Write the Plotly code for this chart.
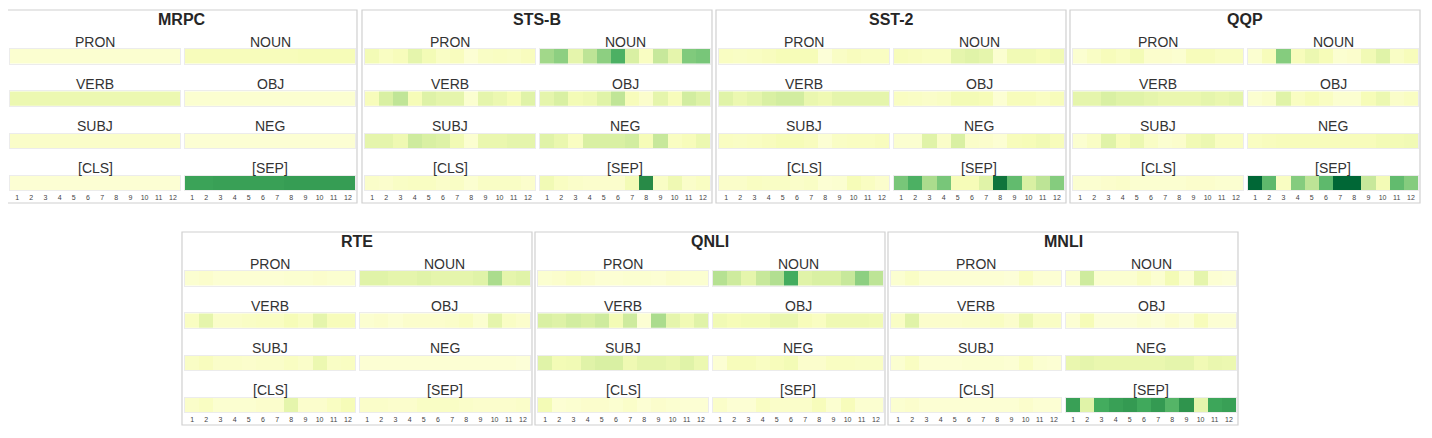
import plotly.graph_objects as go

tasks = ["MRPC", "STS-B", "SST-2", "QQP", "RTE", "QNLI", "MNLI"]
features = ["PRON", "NOUN", "VERB", "OBJ", "SUBJ", "NEG", "[CLS]", "[SEP]"]
layers = list(range(1, 13))

# one row per feature (same order as `features`), one value per layer
mrpc = [
    [0.06, 0.06, 0.06, 0.06, 0.06, 0.06, 0.06, 0.06, 0.06, 0.06, 0.06, 0.06],
    [0.12, 0.12, 0.12, 0.12, 0.12, 0.12, 0.12, 0.12, 0.13, 0.13, 0.13, 0.13],
    [0.17, 0.17, 0.17, 0.17, 0.17, 0.17, 0.17, 0.17, 0.17, 0.17, 0.17, 0.17],
    [0.06, 0.06, 0.06, 0.06, 0.06, 0.06, 0.06, 0.06, 0.06, 0.06, 0.06, 0.06],
    [0.08, 0.08, 0.08, 0.08, 0.08, 0.08, 0.08, 0.08, 0.08, 0.08, 0.08, 0.08],
    [0.05, 0.05, 0.05, 0.05, 0.05, 0.05, 0.05, 0.05, 0.05, 0.05, 0.05, 0.05],
    [0.05, 0.05, 0.05, 0.05, 0.05, 0.05, 0.05, 0.05, 0.05, 0.05, 0.05, 0.05],
    [0.65, 0.65, 0.66, 0.66, 0.66, 0.66, 0.66, 0.67, 0.67, 0.67, 0.67, 0.67],
]
stsb = [
    [0.14, 0.10, 0.12, 0.20, 0.14, 0.09, 0.11, 0.05, 0.09, 0.10, 0.09, 0.11],
    [0.40, 0.45, 0.20, 0.33, 0.45, 0.60, 0.25, 0.10, 0.30, 0.20, 0.48, 0.50],
    [0.12, 0.25, 0.32, 0.13, 0.23, 0.20, 0.20, 0.06, 0.20, 0.17, 0.13, 0.22],
    [0.20, 0.25, 0.14, 0.16, 0.22, 0.32, 0.12, 0.07, 0.20, 0.12, 0.27, 0.23],
    [0.20, 0.20, 0.16, 0.28, 0.25, 0.23, 0.15, 0.06, 0.18, 0.18, 0.20, 0.20],
    [0.22, 0.18, 0.10, 0.25, 0.25, 0.25, 0.27, 0.13, 0.30, 0.10, 0.12, 0.17],
    [0.08, 0.07, 0.09, 0.10, 0.10, 0.08, 0.09, 0.06, 0.09, 0.09, 0.09, 0.07],
    [0.15, 0.10, 0.08, 0.07, 0.07, 0.07, 0.14, 0.73, 0.09, 0.16, 0.08, 0.10],
]
sst2 = [
    [0.10, 0.09, 0.10, 0.11, 0.13, 0.13, 0.13, 0.04, 0.09, 0.11, 0.10, 0.10],
    [0.12, 0.11, 0.10, 0.10, 0.20, 0.22, 0.20, 0.06, 0.15, 0.15, 0.13, 0.15],
    [0.22, 0.17, 0.20, 0.25, 0.27, 0.27, 0.18, 0.16, 0.20, 0.20, 0.20, 0.20],
    [0.10, 0.09, 0.08, 0.09, 0.14, 0.14, 0.13, 0.05, 0.12, 0.12, 0.10, 0.12],
    [0.10, 0.09, 0.10, 0.11, 0.13, 0.13, 0.11, 0.05, 0.09, 0.10, 0.10, 0.11],
    [0.06, 0.06, 0.22, 0.08, 0.25, 0.08, 0.07, 0.05, 0.12, 0.13, 0.15, 0.12],
    [0.08, 0.08, 0.10, 0.09, 0.09, 0.08, 0.09, 0.05, 0.06, 0.13, 0.10, 0.07],
    [0.50, 0.60, 0.38, 0.50, 0.13, 0.13, 0.22, 0.82, 0.55, 0.25, 0.33, 0.47],
]
qqp = [
    [0.06, 0.09, 0.12, 0.10, 0.14, 0.07, 0.07, 0.06, 0.12, 0.12, 0.10, 0.10],
    [0.06, 0.12, 0.47, 0.12, 0.17, 0.13, 0.06, 0.07, 0.15, 0.22, 0.09, 0.12],
    [0.20, 0.20, 0.25, 0.22, 0.22, 0.20, 0.18, 0.18, 0.18, 0.20, 0.18, 0.20],
    [0.06, 0.08, 0.22, 0.10, 0.13, 0.10, 0.06, 0.06, 0.13, 0.17, 0.08, 0.10],
    [0.06, 0.09, 0.22, 0.12, 0.17, 0.09, 0.06, 0.07, 0.15, 0.17, 0.10, 0.10],
    [0.10, 0.11, 0.12, 0.12, 0.12, 0.12, 0.12, 0.12, 0.12, 0.14, 0.14, 0.15],
    [0.06, 0.06, 0.07, 0.08, 0.06, 0.06, 0.06, 0.06, 0.07, 0.07, 0.06, 0.06],
    [0.88, 0.56, 0.10, 0.47, 0.33, 0.56, 0.88, 0.88, 0.30, 0.14, 0.55, 0.47],
]
rte = [
    [0.06, 0.07, 0.05, 0.05, 0.05, 0.05, 0.05, 0.06, 0.06, 0.07, 0.06, 0.06],
    [0.22, 0.22, 0.20, 0.20, 0.22, 0.20, 0.20, 0.20, 0.22, 0.38, 0.20, 0.22],
    [0.10, 0.20, 0.08, 0.08, 0.09, 0.10, 0.10, 0.13, 0.10, 0.20, 0.12, 0.12],
    [0.06, 0.07, 0.05, 0.07, 0.07, 0.07, 0.08, 0.10, 0.06, 0.20, 0.09, 0.07],
    [0.09, 0.11, 0.08, 0.08, 0.07, 0.08, 0.08, 0.10, 0.08, 0.17, 0.09, 0.10],
    [0.05, 0.05, 0.05, 0.05, 0.05, 0.05, 0.05, 0.05, 0.05, 0.05, 0.05, 0.04],
    [0.08, 0.10, 0.06, 0.06, 0.06, 0.07, 0.07, 0.20, 0.07, 0.07, 0.10, 0.13],
    [0.08, 0.08, 0.07, 0.07, 0.09, 0.09, 0.09, 0.08, 0.07, 0.07, 0.07, 0.08],
]
qnli = [
    [0.06, 0.07, 0.09, 0.07, 0.05, 0.05, 0.06, 0.06, 0.05, 0.07, 0.06, 0.06],
    [0.35, 0.28, 0.20, 0.30, 0.36, 0.62, 0.22, 0.25, 0.25, 0.30, 0.45, 0.33],
    [0.25, 0.23, 0.27, 0.25, 0.28, 0.14, 0.28, 0.05, 0.38, 0.20, 0.15, 0.22],
    [0.15, 0.13, 0.14, 0.14, 0.18, 0.18, 0.12, 0.10, 0.16, 0.16, 0.16, 0.15],
    [0.22, 0.14, 0.15, 0.22, 0.25, 0.25, 0.16, 0.20, 0.20, 0.18, 0.22, 0.17],
    [0.05, 0.12, 0.12, 0.10, 0.12, 0.14, 0.07, 0.07, 0.10, 0.10, 0.09, 0.09],
    [0.14, 0.05, 0.06, 0.07, 0.07, 0.06, 0.08, 0.05, 0.07, 0.06, 0.05, 0.05],
    [0.08, 0.05, 0.05, 0.10, 0.08, 0.08, 0.08, 0.12, 0.06, 0.12, 0.06, 0.06],
]
mnli = [
    [0.06, 0.09, 0.05, 0.05, 0.05, 0.05, 0.05, 0.05, 0.04, 0.10, 0.05, 0.05],
    [0.06, 0.28, 0.06, 0.06, 0.06, 0.10, 0.06, 0.14, 0.05, 0.20, 0.05, 0.04],
    [0.09, 0.22, 0.07, 0.07, 0.07, 0.08, 0.08, 0.10, 0.07, 0.17, 0.09, 0.09],
    [0.05, 0.13, 0.04, 0.04, 0.04, 0.06, 0.04, 0.07, 0.04, 0.12, 0.05, 0.05],
    [0.06, 0.10, 0.05, 0.05, 0.05, 0.06, 0.06, 0.06, 0.05, 0.10, 0.06, 0.05],
    [0.18, 0.20, 0.18, 0.18, 0.18, 0.18, 0.18, 0.20, 0.20, 0.15, 0.18, 0.17],
    [0.06, 0.07, 0.05, 0.05, 0.05, 0.05, 0.05, 0.05, 0.05, 0.07, 0.05, 0.05],
    [0.66, 0.22, 0.62, 0.66, 0.68, 0.63, 0.68, 0.58, 0.70, 0.20, 0.64, 0.66],
]

task_data = [mrpc, stsb, sst2, qqp, rte, qnli, mnli]

ylgn = [
    [0.0, "#ffffe5"], [0.125, "#f7fcb9"], [0.25, "#d9f0a3"], [0.375, "#addd8e"],
    [0.5, "#78c679"], [0.625, "#41ab5d"], [0.75, "#238443"], [0.875, "#006837"],
    [1.0, "#004529"],
]

# the page body adds an 8px margin, so the figure is a bit smaller than the window
OFF = 8
W, H = 1416, 422
# panel box placement in window pixels (left, top)
panel_pos = [(7, 10), (362, 10), (716, 10), (1070, 10),
             (182, 232), (535, 232), (888, 232)]
box_w, box_h = 350, 193


def px(x):
    return (x - OFF) / W


def py(y):
    return 1 - (y - OFF) / H


fig = go.Figure()
shapes = []
annotations = []
layout_axes = {}
n = 0

for t, task in enumerate(tasks):
    L, T = panel_pos[t]
    shapes.append(dict(type="rect", xref="paper", yref="paper",
                       x0=px(L), x1=px(L + box_w), y0=py(T + box_h), y1=py(T),
                       line=dict(color="#d0d0d0", width=1.2), fillcolor="rgba(0,0,0,0)"))
    annotations.append(dict(text="<b>" + task + "</b>", xref="paper", yref="paper",
                            x=px(L + box_w / 2), y=py(T + 10), showarrow=False,
                            xanchor="center", yanchor="middle",
                            font=dict(size=16, color="#262626")))
    for k, feat in enumerate(features):
        n += 1
        col, row = k % 2, k // 2
        x0 = L + 3 + col * 175
        x1 = x0 + 170
        y0 = T + 39 + row * 42.3
        y1 = y0 + 14.5
        sfx = "" if n == 1 else str(n)
        fig.add_trace(go.Heatmap(
            z=[task_data[t][k]], x=layers, y=[0],
            colorscale=ylgn, zmin=0, zmax=1, showscale=False,
            xaxis="x" + sfx, yaxis="y" + sfx,
        ))
        layout_axes["xaxis" + sfx] = dict(
            domain=[px(x0), px(x1)], anchor="y" + sfx, range=[0.5, 12.5],
            showgrid=False, zeroline=False, ticks="",
            showticklabels=(row == 3), tickmode="array", tickvals=layers,
            tickfont=dict(size=7, color="#444444"),
            showline=True, mirror=True, linecolor="#ececec", linewidth=1,
        )
        layout_axes["yaxis" + sfx] = dict(
            domain=[py(y1), py(y0)], anchor="x" + sfx, range=[-0.5, 0.5],
            showgrid=False, zeroline=False, showticklabels=False, ticks="",
            showline=True, mirror=True, linecolor="#ececec", linewidth=1,
        )
        annotations.append(dict(text=feat, xref="paper", yref="paper",
                                x=px((x0 + x1) / 2), y=py(y0 - 7.5), showarrow=False,
                                xanchor="center", yanchor="middle",
                                font=dict(size=14, color="#333333")))

fig.update_layout(
    width=W, height=H,
    margin=dict(l=0, r=0, t=0, b=0),
    paper_bgcolor="white", plot_bgcolor="white",
    font=dict(family="Liberation Sans, Arial, sans-serif"),
    shapes=shapes, annotations=annotations,
    **layout_axes,
)

fig.write_html("out.html")
